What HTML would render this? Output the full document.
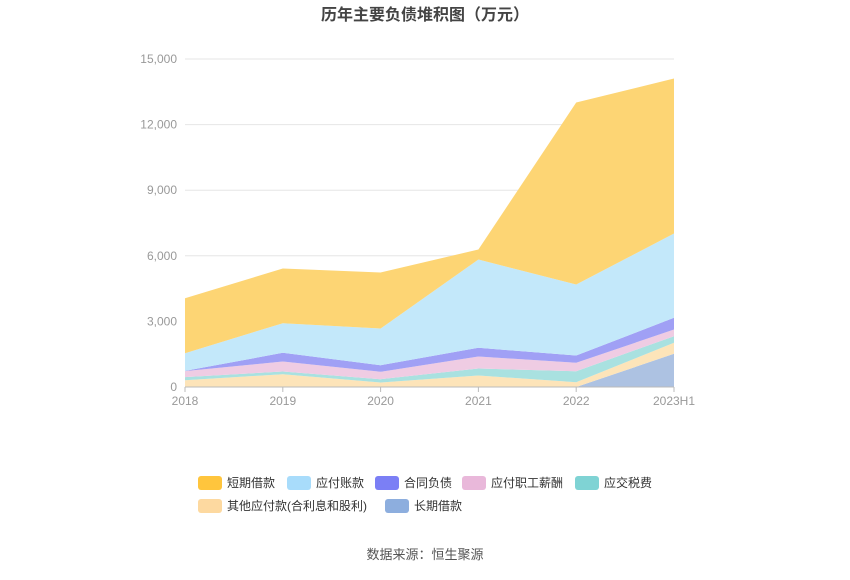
<!DOCTYPE html>
<html><head><meta charset="utf-8"><style>
body{margin:0;background:#fff;font-family:"Liberation Sans","Noto Sans CJK SC",sans-serif}
</style></head><body>
<svg id="c" width="850" height="575" xmlns="http://www.w3.org/2000/svg">
<text x="425" y="20" text-anchor="middle" font-size="16" font-weight="bold" fill="#444">历年主要负债堆积图（万元）</text>
<g id="grid"></g><g id="areas"></g><g id="axes"></g><g id="legend"></g>
<text x="425" y="559" text-anchor="middle" font-size="13" fill="#555">数据来源：恒生聚源</text>
</svg>
<script>
const categories=["2018","2019","2020","2021","2022","2023H1"];
const seriesNames=["长期借款","其他应付款(合利息和股利)","应交税费","应付职工薪酬","合同负债","应付账款","短期借款"];
const longLoan=[0,0,0,0,0,1518];
const otherPay=[310,585,206,526,220,503];
const taxPay=[140,124,151,320,502,302];
const salary=[275,457,338,549,385,306];
const contract=[10,398,302,398,333,536];
const accPay=[810,1354,1678,4037,3247,3855];
const shortLoan=[2515,2500,2561,458,8323,7088];
const yTicks=[0,3000,6000,9000,12000,15000];
const series=[longLoan,otherPay,taxPay,salary,contract,accPay,shortLoan];
const fills=["#adc2e2","#fde4b9","#a9e1e0","#efcce3","#a0a0f5","#c3e8fa","#fdd574"];
const legendColors=["#8daede","#fdd9a0","#7fd3d4","#e9b8da","#7b7ff5","#a8dcfb","#ffc53d"];
const keys=["long-loan","other-payables","tax-payable","salary-payable","contract-liability","accounts-payable","short-loan"];
const NS="http://www.w3.org/2000/svg";
const x=i=>185+i*(674-185)/(categories.length-1);
const y=v=>387-v*(387-59)/15000;
function mk(t,a,p){const e=document.createElementNS(NS,t);for(const k in a)e.setAttribute(k,a[k]);p.appendChild(e);return e;}
const grid=document.getElementById('grid'),axes=document.getElementById('axes'),areas=document.getElementById('areas'),lg=document.getElementById('legend');
yTicks.forEach(t=>{
 if(t>0){const l=mk('line',{x1:185,x2:674,y1:y(t),y2:y(t),stroke:'#e6e6e6'},grid);
 
 }
 const tx=mk('text',{x:177,y:y(t)+4,'text-anchor':'end','font-size':12,fill:'#999'},axes);tx.textContent=t.toLocaleString('en-US');
 
 
});
let base=categories.map(()=>0);
series.forEach((s,k)=>{
 const top=base.map((b,i)=>b+s[i]);
 let d='M'+top.map((v,i)=>x(i)+','+y(v)).join('L');
 for(let i=categories.length-1;i>=0;i--)d+='L'+x(i)+','+y(base[i]);
 const p=mk('path',{d:d+'Z',fill:fills[k]},areas);
 
 
 base=top;
});
mk('line',{x1:185,x2:674,y1:387,y2:387,stroke:'#bbb'},axes);
categories.forEach((c,i)=>{
 mk('line',{x1:x(i),x2:x(i),y1:387,y2:392,stroke:'#bbb'},axes);
 const t=mk('text',{x:x(i),y:405,'text-anchor':'middle','font-size':12,fill:'#999'},axes);t.textContent=c;
 
 
});
const order=[6,5,4,3,2,1,0];
const pos=[[198,483],[287,483],[375,483],[462,483],[575,483],[198,506],[385,506]];
order.forEach((k,j)=>{
 const g=mk('g',{},lg);
 
 
 mk('rect',{x:pos[j][0],y:pos[j][1]-7,width:24,height:14,rx:3,fill:legendColors[k]},g);
 const t=mk('text',{x:pos[j][0]+29,y:pos[j][1]+4,'font-size':12,fill:'#333'},g);t.textContent=seriesNames[k];
});
</script>
</body></html>
